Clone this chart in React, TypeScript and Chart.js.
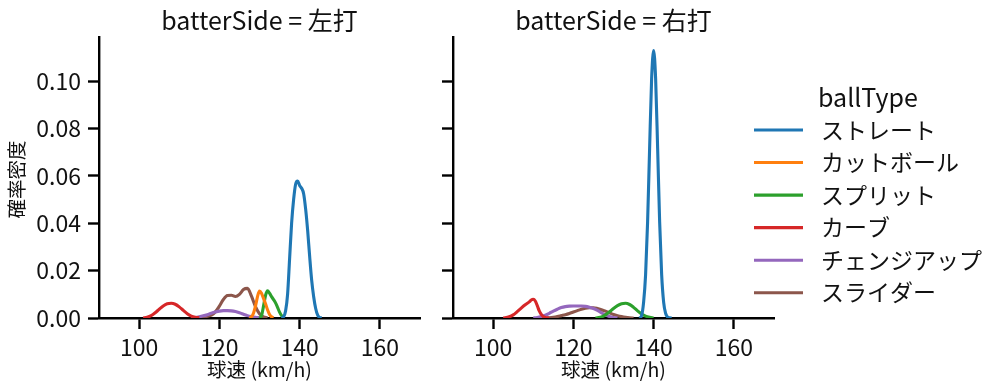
import React, { useEffect, useRef } from "react";
import { Chart, registerables } from "chart.js";

Chart.register(...registerables);

const ballTypes = ["ストレート", "カットボール", "スプリット", "カーブ", "チェンジアップ", "スライダー"];
const colors = ["#1f77b4", "#ff7f0e", "#2ca02c", "#d62728", "#9467bd", "#8c564b"];
const panelTitles = ["batterSide = 左打", "batterSide = 右打"];
const xTicks = [100, 120, 140, 160];
const yTicks = [0, 0.02, 0.04, 0.06, 0.08, 0.1];
const X_MIN = 90;
const X_MAX = 170;
const Y_MAX = 0.1187;

// 左打: [speed, density]
const leftStraight = [
  [135.5, 0.0], [136, 0.0005], [136.5, 0.003], [137, 0.01], [137.5, 0.025], [138, 0.04],
  [138.5, 0.05], [139, 0.0565], [139.5, 0.0578], [140, 0.056], [140.5, 0.0548], [141, 0.0525],
  [141.5, 0.046], [142, 0.037], [142.5, 0.026], [143, 0.016], [143.5, 0.009], [144, 0.004],
  [144.5, 0.0012], [145, 0.0002], [145.5, 0.0],
];
const leftCutter = [
  [127.5, 0.0], [128, 0.0005], [128.5, 0.002], [129, 0.005], [129.5, 0.009], [130, 0.0114],
  [130.5, 0.0105], [131, 0.0083], [131.5, 0.006], [132, 0.0035], [132.5, 0.0015], [133, 0.0005],
  [133.5, 0.0001],
];
const leftSplit = [
  [130, 0.0], [130.5, 0.001], [131, 0.005], [131.5, 0.0095], [132, 0.0115], [132.5, 0.0105],
  [133, 0.009], [133.5, 0.0078], [134, 0.0064], [134.5, 0.0045], [135, 0.0025], [135.5, 0.001],
  [136, 0.0002],
];
const leftCurve = [
  [101, 0.0], [102, 0.0003], [103, 0.001], [104, 0.0022], [105, 0.0037], [106, 0.0051],
  [107, 0.006], [108, 0.0062], [109, 0.0058], [110, 0.0047], [111, 0.0032], [112, 0.0018],
  [113, 0.0008], [114, 0.0003], [115, 0.0001],
];
const leftChangeup = [
  [113, 0.0001], [114, 0.0002], [115, 0.0005], [116, 0.0009], [117, 0.0014], [118, 0.002],
  [119, 0.0025], [120, 0.0029], [121, 0.0031], [122, 0.0031], [123, 0.003], [124, 0.0027],
  [125, 0.0022], [126, 0.0016], [127, 0.001], [128, 0.0006], [129, 0.0003], [130, 0.0001],
];
const leftSlider = [
  [115, 0.0001], [116, 0.0003], [117, 0.0007], [118, 0.0012], [119, 0.0026], [120, 0.005],
  [121, 0.0078], [122, 0.0095], [123, 0.0096], [124, 0.0091], [125, 0.01], [126, 0.012],
  [127, 0.0125], [128, 0.0092], [129, 0.0048], [130, 0.0018], [131, 0.0005], [132, 0.0001],
];

// 右打
const rightStraight = [
  [136.5, 0.0], [137, 0.001], [137.5, 0.0066], [138, 0.0183], [138.5, 0.0406], [139, 0.0717],
  [139.5, 0.101], [140, 0.113], [140.5, 0.101], [141, 0.0717], [141.5, 0.0406], [142, 0.0183],
  [142.5, 0.0066], [143, 0.0019], [143.5, 0.0004], [144, 0.0001], [144.5, 0.0],
];
const rightCutter: number[][] = [];
const rightSplit = [
  [125.5, 0.0], [126, 0.0001], [127, 0.0004], [128, 0.0013], [129, 0.0026], [130, 0.004],
  [131, 0.0052], [132, 0.006], [133, 0.0062], [134, 0.0057], [135, 0.0045], [136, 0.003],
  [137, 0.0017], [138, 0.0008], [139, 0.0003], [140, 0.0],
];
const rightCurve = [
  [102.5, 0.0], [103, 0.0001], [104, 0.0005], [105, 0.0013], [106, 0.0027], [107, 0.0042],
  [108, 0.0056], [109, 0.0068], [109.5, 0.0076], [110, 0.0079], [110.5, 0.0072], [111, 0.0052],
  [111.5, 0.003], [112, 0.0015], [112.5, 0.0006], [113, 0.0002], [114, 0.0],
];
const rightChangeup = [
  [110, 0.0], [111, 0.0002], [112, 0.0006], [113, 0.0012], [114, 0.002], [115, 0.0029],
  [116, 0.0037], [117, 0.0044], [118, 0.0048], [119, 0.005], [120, 0.0051], [121, 0.0051],
  [122, 0.0051], [123, 0.0049], [124, 0.0045], [125, 0.004], [126, 0.0032], [127, 0.0022],
  [128, 0.0013], [129, 0.0006], [130, 0.0002], [131, 0.0],
];
const rightSlider = [
  [113, 0.0], [114, 0.0001], [115, 0.0003], [116, 0.0006], [117, 0.001], [118, 0.0014],
  [119, 0.0019], [120, 0.0025], [121, 0.0031], [122, 0.0037], [123, 0.0041], [124, 0.0043],
  [125, 0.0043], [126, 0.004], [127, 0.0035], [128, 0.0029], [129, 0.0022], [130, 0.0015],
  [131, 0.001], [132, 0.0006], [133, 0.0003], [134, 0.0001], [135, 0.0],
];

const leftSeries = [leftStraight, leftCutter, leftSplit, leftCurve, leftChangeup, leftSlider];
const rightSeries = [rightStraight, rightCutter, rightSplit, rightCurve, rightChangeup, rightSlider];

const FONT = '"Noto Sans CJK JP", "Noto Sans", sans-serif';
const TEXT = "#111";

function buildConfig(series: number[][][], opts: any) {
  const decor = {
    id: "decor",
    afterDraw(chart: any) {
      const ctx = chart.ctx;
      const { left, right, top, bottom } = chart.chartArea;
      const cx = (left + right) / 2;
      ctx.save();
      ctx.fillStyle = TEXT;
      ctx.textBaseline = "middle";
      ctx.textAlign = "center";
      ctx.font = `25px ${FONT}`;
      ctx.fillText(opts.title, cx, 20);
      ctx.font = `19.5px ${FONT}`;
      ctx.fillText("球速 (km/h)", cx, 370);
      if (opts.yTitle) {
        ctx.save();
        ctx.translate(17, (top + bottom) / 2 + 2);
        ctx.rotate(-Math.PI / 2);
        ctx.font = `19.5px ${FONT}`;
        ctx.fillText("確率密度", 0, 0);
        ctx.restore();
      }
      if (opts.legend) {
        const lx = opts.legendX;
        ctx.textAlign = "left";
        ctx.font = `25px ${FONT}`;
        ctx.fillText("ballType", lx + 64, 97);
        ctx.font = `23px ${FONT}`;
        ballTypes.forEach((name, i) => {
          const y = 130 + i * 32.55;
          ctx.strokeStyle = colors[i];
          ctx.lineWidth = 3.1;
          ctx.beginPath();
          ctx.moveTo(lx, y);
          ctx.lineTo(lx + 49, y);
          ctx.stroke();
          ctx.fillStyle = TEXT;
          ctx.fillText(name, lx + 67, y);
        });
      }
      ctx.restore();
    },
  };

  return {
    type: "line" as const,
    data: {
      datasets: series.map((pts, i) => ({
        label: ballTypes[i],
        data: pts.map(([x, y]) => ({ x, y })),
        borderColor: colors[i],
        backgroundColor: colors[i],
        borderWidth: 3.1,
        pointRadius: 0,
        cubicInterpolationMode: "monotone" as const,
        fill: false,
      })),
    },
    options: {
      responsive: false,
      animation: false as const,
      devicePixelRatio: 1,
      layout: { padding: { top: 37, right: opts.padRight, left: 0, bottom: 0 } },
      plugins: { legend: { display: false }, tooltip: { enabled: false }, title: { display: false } },
      scales: {
        x: {
          type: "linear" as const,
          min: X_MIN,
          max: X_MAX,
          afterBuildTicks: (s: any) => {
            s.ticks = xTicks.map((v) => ({ value: v }));
          },
          afterFit: (s: any) => {
            s.height = 73;
          },
          ticks: {
            color: TEXT,
            font: { family: FONT, size: 23 },
            padding: 4,
            maxRotation: 0,
            autoSkip: false,
            callback: (v: any) => String(v),
          },
          grid: { display: true, drawOnChartArea: false, drawTicks: true, tickLength: 11, tickWidth: 2.4, tickColor: "#000" },
          border: { display: true, color: "#000", width: 2.4 },
        },
        y: {
          type: "linear" as const,
          min: 0,
          max: Y_MAX,
          afterBuildTicks: (s: any) => {
            s.ticks = yTicks.map((v) => ({ value: v }));
          },
          afterFit: (s: any) => {
            s.width = opts.yWidth;
          },
          ticks: {
            display: opts.yLabels,
            color: TEXT,
            font: { family: FONT, size: 23 },
            padding: 7,
            autoSkip: false,
            callback: (v: any) => Number(v).toFixed(2),
          },
          grid: { display: true, drawOnChartArea: false, drawTicks: true, tickLength: 11, tickWidth: 2.4, tickColor: "#000" },
          border: { display: true, color: "#000", width: 2.4 },
        },
      },
    },
    plugins: [decor],
  };
}

export default function App() {
  const leftRef = useRef<HTMLCanvasElement>(null);
  const rightRef = useRef<HTMLCanvasElement>(null);

  useEffect(() => {
    const a = new Chart(
      leftRef.current as HTMLCanvasElement,
      buildConfig(leftSeries, { title: panelTitles[0], yTitle: true, yLabels: true, yWidth: 99, padRight: 20, legend: false }) as any
    );
    const b = new Chart(
      rightRef.current as HTMLCanvasElement,
      buildConfig(rightSeries, { title: panelTitles[1], yTitle: false, yLabels: false, yWidth: 13, padRight: 225, legend: true, legendX: 314 }) as any
    );
    return () => {
      a.destroy();
      b.destroy();
    };
  }, []);

  return (
    <div style={{ position: "fixed", left: 0, top: 0, width: 999, height: 391, background: "#fff" }}>
      <canvas ref={leftRef} width={440} height={391} style={{ position: "absolute", left: 0, top: 0, width: 440, height: 391 }} />
      <canvas ref={rightRef} width={559} height={391} style={{ position: "absolute", left: 440, top: 0, width: 559, height: 391 }} />
    </div>
  );
}
